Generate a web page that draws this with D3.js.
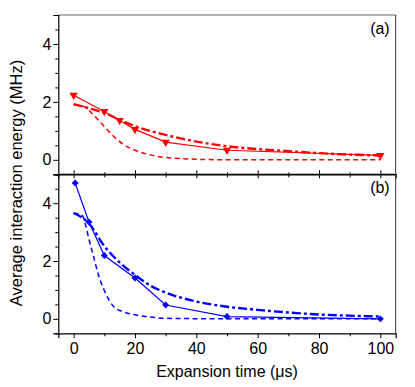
<!DOCTYPE html>
<html><head><meta charset="utf-8">
<script src="https://cdn.jsdelivr.net/npm/d3@7"></script>
<style>body{margin:0;background:#fff;} text{font-family:"Liberation Sans",Arial,sans-serif;}</style>
</head><body><svg id="c" width="415" height="387"></svg>
<script>
// ---- data ----
const xTicks = [0, 20, 40, 60, 80, 100];
const yTicks = [0, 2, 4];
const panelLabels = ["(a)", "(b)"];

const redMeasT = [0, 10, 15, 20, 30, 50, 100];
const redMeasV = [2.23, 1.67, 1.36, 1.05, 0.61, 0.33, 0.15];
const redDashT = [0, 2, 4, 6, 8, 10, 12, 14, 16, 20, 25, 30, 40, 50, 100];
const redDashV = [1.90, 1.88, 1.80, 1.60, 1.38, 1.15, 0.92, 0.72, 0.55, 0.33, 0.17, 0.08, 0.02, 0.0, 0.0];
const redDotT = [0, 5, 10, 15, 20, 30, 40, 50, 60, 70, 80, 90, 100];
const redDotV = [1.92, 1.78, 1.62, 1.38, 1.16, 0.86, 0.63, 0.47, 0.37, 0.30, 0.23, 0.18, 0.15];

const blueMeasT = [0.5, 5, 10, 20, 30, 50, 100];
const blueMeasV = [4.70, 3.35, 2.19, 1.41, 0.48, 0.08, 0.0];
const blueDashT = [0, 2, 3, 4, 5, 6.5, 8, 10, 13, 16, 20, 25, 30, 50, 100];
const blueDashV = [3.65, 3.62, 3.55, 3.2, 2.75, 2.16, 1.55, 0.98, 0.43, 0.25, 0.14, 0.06, 0.02, 0.0, 0.0];
const blueDotT = [0, 5, 10, 15, 20, 25, 30, 40, 50, 60, 70, 80, 90, 100];
const blueDotV = [3.66, 3.30, 2.52, 1.95, 1.52, 1.15, 0.91, 0.60, 0.42, 0.31, 0.22, 0.15, 0.11, 0.08];

const zip = (a, b) => a.map((t, i) => [t, b[i]]);

const svg = d3.select("#c");
const L = 58.3, R = 395.7;
const panels = [
  {top: 15, bottom: 174.3, color: "#ff0000", label: panelLabels[0],
   meas: zip(redMeasT, redMeasV), dash: zip(redDashT, redDashV), dot: zip(redDotT, redDotV), sym: "tri"},
  {top: 174.3, bottom: 333.3, color: "#0000ff", label: panelLabels[1],
   meas: zip(blueMeasT, blueMeasV), dash: zip(blueDashT, blueDashV), dot: zip(blueDotT, blueDotV), sym: "dia"}
];
const x = d3.scaleLinear().domain([-5, 105]).range([L, R]);

panels.forEach((p, pi) => {
  const y = d3.scaleLinear().domain([-0.5, 5]).range([p.bottom, p.top]);
  const g = svg.append("g");
  // frame: top & right
  g.append("line").attr("x1", L).attr("x2", R).attr("y1", p.top).attr("y2", p.top)
    .attr("stroke", pi === 0 ? "#999" : "#000").attr("stroke-width", pi === 0 ? 1.5 : 1.2);
  g.append("line").attr("x1", R).attr("x2", R).attr("y1", p.top).attr("y2", p.bottom)
    .attr("stroke", "#333").attr("stroke-width", 1);
  // left axis
  const ya = g.append("g").attr("transform", `translate(${L},0)`)
    .call(d3.axisLeft(y).tickValues(yTicks).tickSize(5).tickPadding(2).tickFormat(d3.format("d")));
  ya.select(".domain").attr("stroke-width", 1.2);
  ya.selectAll("text").attr("font-size", 16).attr("fill", "#000");
  g.append("g").attr("transform", `translate(${L},0)`)
    .call(d3.axisLeft(y).tickValues(d3.range(-0.5, 5.01, 0.5).filter(v => Math.abs(v % 2) > 1e-6)).tickSize(3).tickFormat(""))
    .select(".domain").remove();
  // bottom axis
  const xa = g.append("g").attr("transform", `translate(0,${p.bottom})`)
    .call(d3.axisBottom(x).tickValues(xTicks).tickSize(pi === 1 ? 5 : 4).tickPadding(4)
      .tickFormat(pi === 1 ? d3.format("d") : ""));
  xa.select(".domain").attr("stroke-width", 1.2);
  xa.selectAll("text").attr("font-size", 16).attr("fill", "#000");
  g.append("g").attr("transform", `translate(0,${p.bottom})`)
    .call(d3.axisBottom(x).tickValues([10, 30, 50, 70, 90]).tickSize(3).tickFormat(""))
    .select(".domain").remove();
  if (pi === 1) {
    g.append("g").attr("transform", `translate(0,${p.top})`)
      .call(d3.axisTop(x).tickValues(xTicks).tickSize(4).tickFormat(""))
      .select(".domain").remove();
    g.append("g").attr("transform", `translate(0,${p.top})`)
      .call(d3.axisTop(x).tickValues([10, 30, 50, 70, 90]).tickSize(2).tickFormat(""))
      .select(".domain").remove();
  }
  // panel label
  g.append("text").attr("x", R - 6).attr("y", p.top + 19).attr("text-anchor", "end")
    .attr("font-size", 16).text(p.label);

  const lineC = d3.line().x(d => x(d[0])).y(d => y(d[1])).curve(d3.curveMonotoneX);
  const lineL = d3.line().x(d => x(d[0])).y(d => y(d[1]));
  g.append("path").attr("d", lineC(p.dash)).attr("fill", "none").attr("stroke", p.color)
    .attr("stroke-width", 1.5).attr("stroke-dasharray", "5,3.5");
  g.append("path").attr("d", lineC(p.dot)).attr("fill", "none").attr("stroke", p.color)
    .attr("stroke-width", 2.4).attr("stroke-dasharray", "9,3,3,3");
  g.append("path").attr("d", lineL(p.meas)).attr("fill", "none").attr("stroke", p.color)
    .attr("stroke-width", 1.2);
  const sym = p.sym === "tri"
    ? d3.symbol().type(d3.symbolTriangle).size(30)
    : d3.symbol().type(d3.symbolSquare).size(24);
  g.selectAll(".m").data(p.meas).join("path")
    .attr("d", sym)
    .attr("transform", d => `translate(${x(d[0])},${y(d[1])})` + (p.sym === "tri" ? " rotate(180)" : " rotate(45)"))
    .attr("fill", p.color);
});

svg.append("text").attr("x", (L + R) / 2).attr("y", 377).attr("text-anchor", "middle")
  .attr("font-size", 16).text("Expansion time (μs)");
svg.append("text").attr("transform", `translate(22,183) rotate(-90)`)
  .attr("text-anchor", "middle").attr("font-size", 16.5).text("Average interaction energy (MHz)");
</script></body></html>
